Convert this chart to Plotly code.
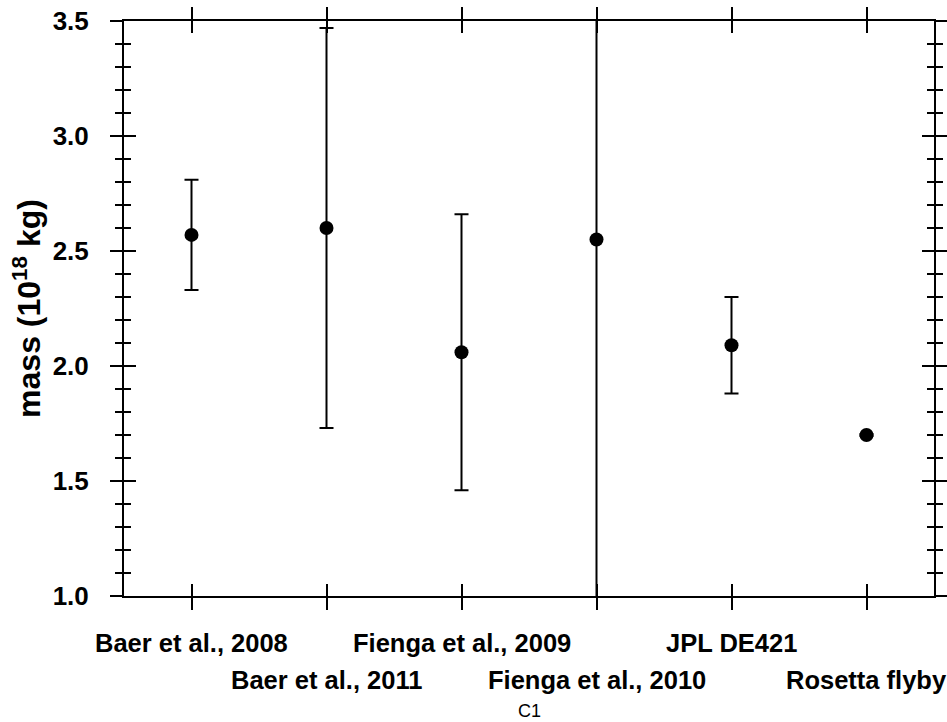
import plotly.graph_objects as go

sources = ["Baer et al., 2008", "Baer et al., 2011", "Fienga et al., 2009",
           "Fienga et al., 2010", "JPL DE421", "Rosetta flyby"]
mass = [2.57, 2.60, 2.06, 2.55, 2.09, 1.70]
mass_err = [0.24, 0.87, 0.60, 1.80, 0.21, 0.004]
ytick_vals = [1.0, 1.5, 2.0, 2.5, 3.0, 3.5]
ytick_text = ["1.0", "1.5", "2.0", "2.5", "3.0", "3.5"]
xpos = list(range(len(sources)))

FONT = "Liberation Sans, Arial, Helvetica, sans-serif"
xr = [-0.5, len(sources) - 0.5]
yr = [1.0, 3.5]

fig = go.Figure()
fig.add_trace(go.Scatter(
    x=xpos, y=mass, mode="markers",
    marker=dict(color="black", size=14),
    error_y=dict(type="data", array=mass_err, visible=True,
                 color="black", thickness=2, width=7),
    showlegend=False, hoverinfo="skip",
))
# empty trace so the overlay axes (inside ticks) get drawn
fig.add_trace(go.Scatter(x=[], y=[], xaxis="x2", yaxis="y2",
                         showlegend=False, hoverinfo="skip"))

fig.update_layout(
    width=947, height=722,
    margin=dict(l=124, r=13, t=21, b=126),
    paper_bgcolor="white", plot_bgcolor="white",
    font=dict(family=FONT, color="black"),
    xaxis=dict(range=xr, tickvals=xpos, showticklabels=False, automargin=False,
               ticks="outside", ticklen=12, tickwidth=1.5, tickcolor="black",
               showline=True, linewidth=2, linecolor="black", mirror="ticks",
               showgrid=False, zeroline=False),
    yaxis=dict(range=yr, tickvals=ytick_vals, ticktext=ytick_text,
               automargin=False, ticklabelstandoff=16,
               ticklabeloverflow="allow",
               ticks="outside", ticklen=12, tickwidth=1.5, tickcolor="black",
               minor=dict(dtick=0.1, tick0=1.0, ticks="outside", ticklen=7,
                          tickwidth=1.5, tickcolor="black", showgrid=False),
               showline=True, linewidth=2, linecolor="black", mirror="ticks",
               showgrid=False, zeroline=False,
               tickfont=dict(family=FONT, size=26, color="black", weight="bold"),
               title=dict(text="mass (10<sup>18</sup> kg)",
                          font=dict(family=FONT, size=32, color="black",
                                    weight="bold"),
                          standoff=2)),
    xaxis2=dict(range=xr, tickvals=xpos, showticklabels=False, overlaying="x",
                anchor="y2", ticks="inside", ticklen=12, tickwidth=1.5,
                tickcolor="black", mirror="ticks", showline=False,
                showgrid=False, zeroline=False, automargin=False),
    yaxis2=dict(range=yr, tickvals=ytick_vals, showticklabels=False,
                overlaying="y", anchor="x2", ticks="inside", ticklen=12,
                tickwidth=1.5, tickcolor="black",
                minor=dict(dtick=0.1, tick0=1.0, ticks="inside", ticklen=7,
                           tickwidth=1.5, tickcolor="black", showgrid=False),
                mirror="ticks", showline=False, showgrid=False, zeroline=False,
                automargin=False),
)

annotations = []
for i, name in enumerate(sources):
    annotations.append(dict(
        x=xpos[i], xref="x", y=0, yref="paper",
        yshift=-47 if i % 2 == 0 else -84, yanchor="middle", xanchor="center",
        text="<b>" + name + "</b>", showarrow=False,
        font=dict(family=FONT, size=25.5, color="black"),
    ))
annotations.append(dict(
    x=0.5, xref="paper", y=0, yref="paper", yshift=-115, yanchor="middle",
    text="C1", showarrow=False, font=dict(family=FONT, size=18, color="black"),
))
fig.update_layout(annotations=annotations)

# remove the browser's default 8px body margin so the figure fills the window
fig.write_html("out.html",
               config={"displayModeBar": False},
               post_script="document.body.style.margin='0';"
                           "document.body.style.padding='0';")
